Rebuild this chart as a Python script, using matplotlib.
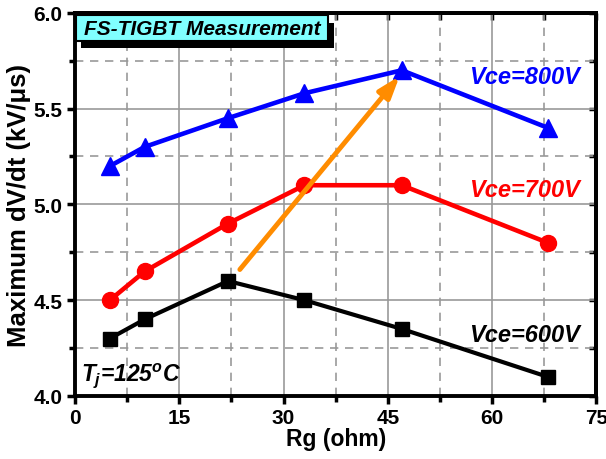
import matplotlib
matplotlib.use("Agg")
import matplotlib.pyplot as plt
from matplotlib.ticker import MultipleLocator, NullFormatter
from matplotlib.patches import Rectangle

plt.rcParams['font.family'] = ['Liberation Sans', 'DejaVu Sans']
plt.rcParams['mathtext.fontset'] = 'custom'
plt.rcParams['mathtext.rm'] = 'Liberation Sans:bold:italic'
plt.rcParams['mathtext.it'] = 'Liberation Sans:bold:italic'
plt.rcParams['mathtext.bf'] = 'Liberation Sans:bold:italic'

rg = [5, 10, 22, 33, 47, 68]
v800 = [5.2, 5.3, 5.45, 5.58, 5.7, 5.4]
v700 = [4.5, 4.65, 4.9, 5.1, 5.1, 4.8]
v600 = [4.3, 4.4, 4.6, 4.5, 4.35, 4.1]
series_labels = ["Vce=800V", "Vce=700V", "Vce=600V"]
x_ticks = [0, 15, 30, 45, 60, 75]
y_ticks = [4.0, 4.5, 5.0, 5.5, 6.0]
arrow_start = (23.7, 4.66)
arrow_end = (46.7, 5.67)

fig = plt.figure(figsize=(6.06, 4.60), dpi=100)
ax = fig.add_axes([0.124, 0.137, 0.860, 0.833])

ax.set_xlim(0, 75)
ax.set_ylim(4.0, 6.0)
ax.set_xticks(x_ticks)
ax.set_xticklabels([str(v) for v in x_ticks], fontweight='bold')
ax.set_yticks(y_ticks)
ax.set_yticklabels([f'{v:.1f}' for v in y_ticks], fontweight='bold')
ax.xaxis.set_minor_locator(MultipleLocator(7.5))
ax.yaxis.set_minor_locator(MultipleLocator(0.25))
ax.grid(which='major', color='#999999', lw=1.2, ls='-')
ax.grid(which='minor', color='#999999', lw=1.2, ls=(0, (5, 4)))
ax.set_axisbelow(True)

for s in ax.spines.values():
    s.set_linewidth(2.8)
ax.tick_params(which='both', direction='out', width=2.5, labelsize=15, pad=3)
ax.tick_params(which='major', length=6)
ax.tick_params(which='minor', length=4)

# mirrored axes with inward ticks on top and right
top = ax.secondary_xaxis('top')
top.set_xticks(x_ticks)
top.xaxis.set_minor_locator(MultipleLocator(7.5))
top.xaxis.set_major_formatter(NullFormatter())
top.tick_params(which='both', direction='in', width=2.5, length=5)
top.spines['top'].set_linewidth(2.8)
right = ax.secondary_yaxis('right')
right.set_yticks(y_ticks)
right.yaxis.set_minor_locator(MultipleLocator(0.25))
right.yaxis.set_major_formatter(NullFormatter())
right.tick_params(which='both', direction='in', width=2.5, length=5)
right.spines['right'].set_linewidth(2.8)

ax.plot(rg, v800, color='#0000ff', lw=3.3, marker='^', ms=13, zorder=3)
ax.plot(rg, v700, color='#ff0000', lw=3.3, marker='o', ms=11.5, zorder=3)
ax.plot(rg, v600, color='#000000', lw=3.0, marker='s', ms=10.5, zorder=3)

ax.annotate('', xy=arrow_end, xytext=arrow_start,
            arrowprops=dict(arrowstyle='-|>,head_length=1.3,head_width=0.45',
                            color='#ff8c00', lw=3.5, shrinkA=0, shrinkB=0),
            zorder=4)

label_kw = dict(fontsize=17, fontweight='bold', style='italic',
                ha='right', va='center')
ax.text(72.7, 5.67, series_labels[0], color='#0000ff', **label_kw)
ax.text(72.7, 5.08, series_labels[1], color='#ff0000', **label_kw)
ax.text(72.7, 4.32, series_labels[2], color='#000000', **label_kw)

ax.text(0.8, 4.11, r'$T_{j}$=125$^{o}$C', fontsize=16.5, fontweight='bold',
        style='italic', ha='left', va='center')

# title box with drop shadow
bx0, by0, bw, bh = 0.002, 0.927, 0.484, 0.066
ax.add_patch(Rectangle((bx0 + 0.010, by0 - 0.019), bw, bh, transform=ax.transAxes,
                       fc='black', ec='black', lw=0, zorder=5, clip_on=False))
ax.add_patch(Rectangle((bx0, by0), bw, bh, transform=ax.transAxes,
                       fc='#80ffff', ec='black', lw=1.5, zorder=6, clip_on=False))
ax.text(bx0 + bw / 2, by0 + bh / 2, 'FS-TIGBT Measurement', fontsize=15,
        fontweight='bold', style='italic', ha='center', va='center',
        transform=ax.transAxes, zorder=7)

ax.set_xlabel('Rg (ohm)', fontsize=16.5, fontweight='bold', labelpad=0)
ax.set_ylabel('Maximum dV/dt (kV/\u03bcs)', fontsize=18.5, fontweight='bold', labelpad=2)

fig.savefig('out.png', dpi=100)
